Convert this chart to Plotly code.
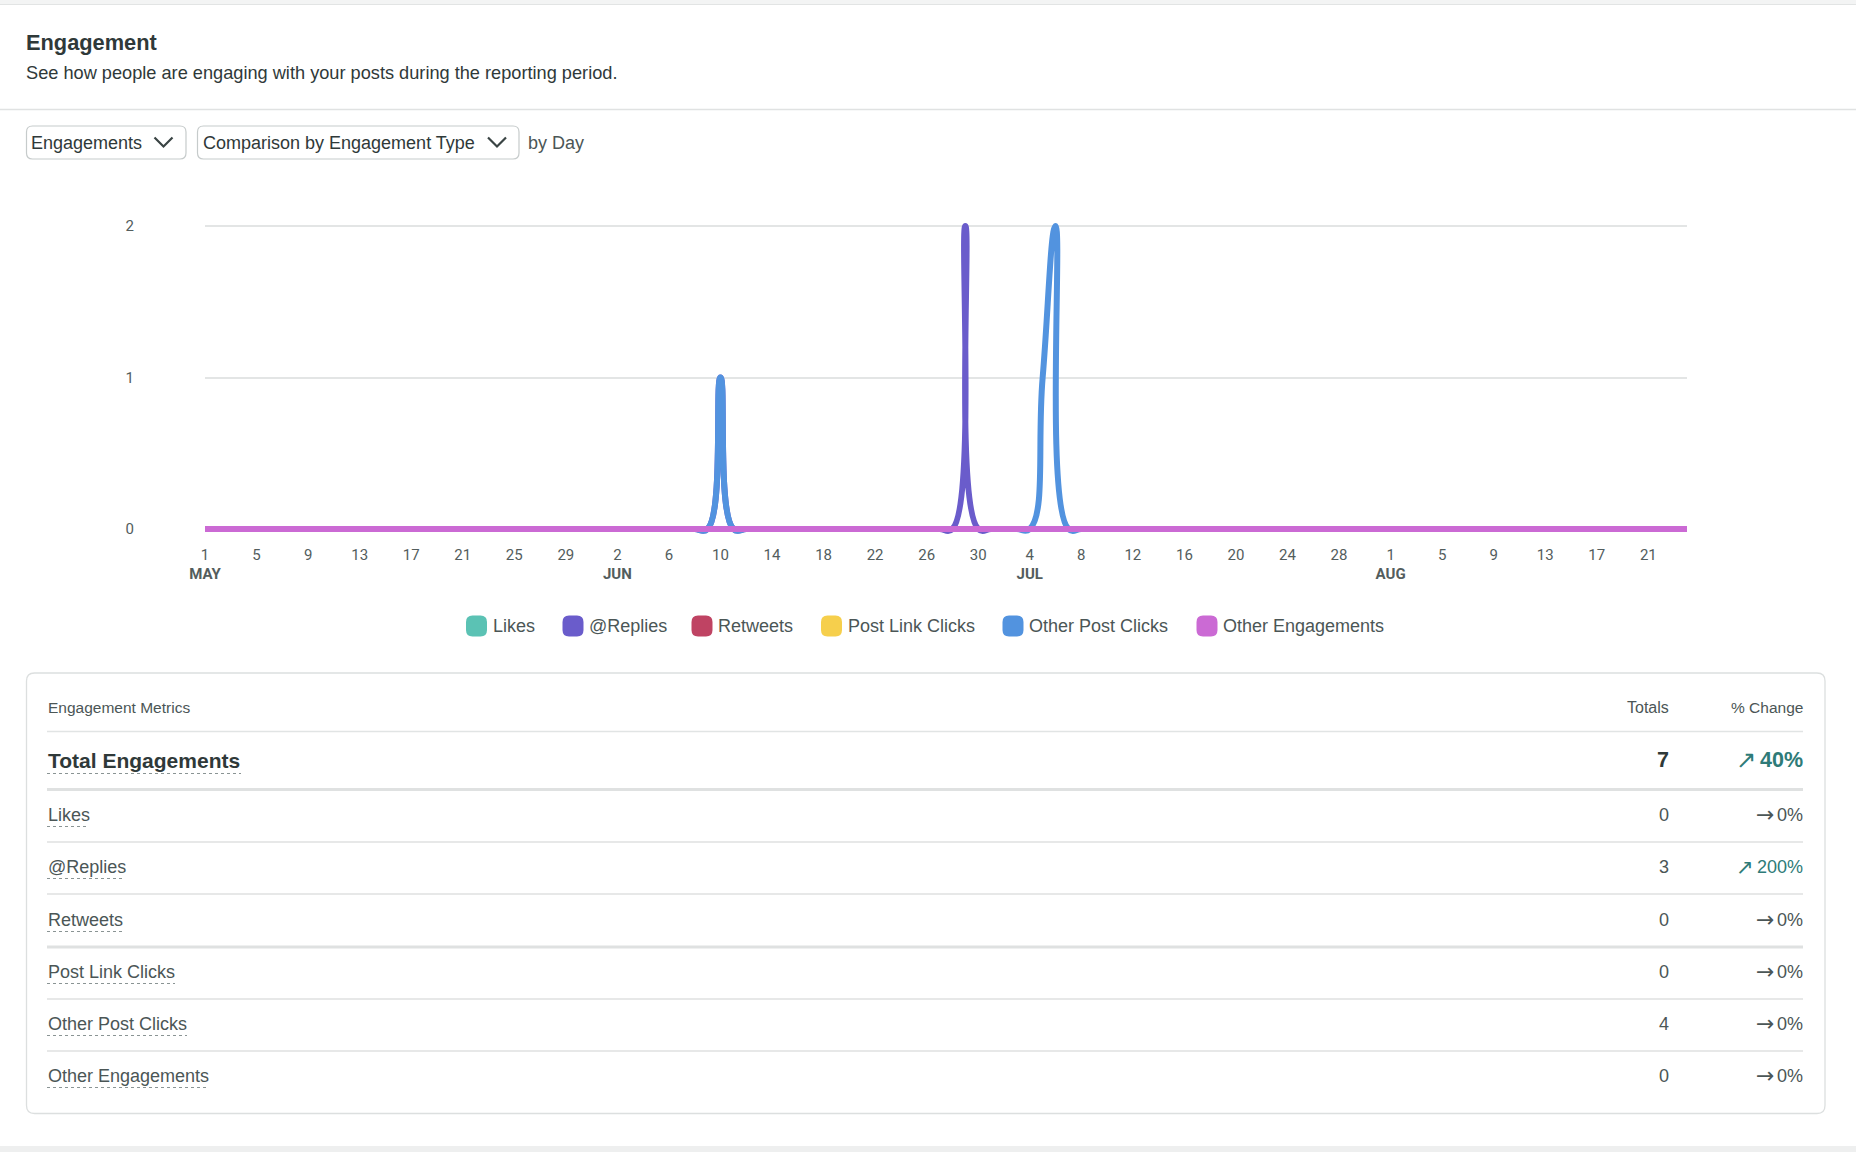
import pandas as pd
import plotly.graph_objects as go

# ------------------------------------------------------------------ data
start_date = "2023-05-01"
end_date = "2023-08-24"
dates = pd.date_range(start_date, end_date, freq="D")

# daily values, May 1 - Aug 24 (one line per month)
likes = (
    [0, 0, 0, 0, 0, 0, 0, 0, 0, 0, 0, 0, 0, 0, 0, 0, 0, 0, 0, 0, 0, 0, 0, 0, 0, 0, 0, 0, 0, 0, 0]
    + [0, 0, 0, 0, 0, 0, 0, 0, 0, 0, 0, 0, 0, 0, 0, 0, 0, 0, 0, 0, 0, 0, 0, 0, 0, 0, 0, 0, 0, 0]
    + [0, 0, 0, 0, 0, 0, 0, 0, 0, 0, 0, 0, 0, 0, 0, 0, 0, 0, 0, 0, 0, 0, 0, 0, 0, 0, 0, 0, 0, 0, 0]
    + [0, 0, 0, 0, 0, 0, 0, 0, 0, 0, 0, 0, 0, 0, 0, 0, 0, 0, 0, 0, 0, 0, 0, 0]
)
replies = (
    [0, 0, 0, 0, 0, 0, 0, 0, 0, 0, 0, 0, 0, 0, 0, 0, 0, 0, 0, 0, 0, 0, 0, 0, 0, 0, 0, 0, 0, 0, 0]
    + [0, 0, 0, 0, 0, 0, 0, 0, 0, 1, 0, 0, 0, 0, 0, 0, 0, 0, 0, 0, 0, 0, 0, 0, 0, 0, 0, 0, 2, 0]
    + [0, 0, 0, 0, 0, 0, 0, 0, 0, 0, 0, 0, 0, 0, 0, 0, 0, 0, 0, 0, 0, 0, 0, 0, 0, 0, 0, 0, 0, 0, 0]
    + [0, 0, 0, 0, 0, 0, 0, 0, 0, 0, 0, 0, 0, 0, 0, 0, 0, 0, 0, 0, 0, 0, 0, 0]
)
retweets = (
    [0, 0, 0, 0, 0, 0, 0, 0, 0, 0, 0, 0, 0, 0, 0, 0, 0, 0, 0, 0, 0, 0, 0, 0, 0, 0, 0, 0, 0, 0, 0]
    + [0, 0, 0, 0, 0, 0, 0, 0, 0, 0, 0, 0, 0, 0, 0, 0, 0, 0, 0, 0, 0, 0, 0, 0, 0, 0, 0, 0, 0, 0]
    + [0, 0, 0, 0, 0, 0, 0, 0, 0, 0, 0, 0, 0, 0, 0, 0, 0, 0, 0, 0, 0, 0, 0, 0, 0, 0, 0, 0, 0, 0, 0]
    + [0, 0, 0, 0, 0, 0, 0, 0, 0, 0, 0, 0, 0, 0, 0, 0, 0, 0, 0, 0, 0, 0, 0, 0]
)
post_link_clicks = (
    [0, 0, 0, 0, 0, 0, 0, 0, 0, 0, 0, 0, 0, 0, 0, 0, 0, 0, 0, 0, 0, 0, 0, 0, 0, 0, 0, 0, 0, 0, 0]
    + [0, 0, 0, 0, 0, 0, 0, 0, 0, 0, 0, 0, 0, 0, 0, 0, 0, 0, 0, 0, 0, 0, 0, 0, 0, 0, 0, 0, 0, 0]
    + [0, 0, 0, 0, 0, 0, 0, 0, 0, 0, 0, 0, 0, 0, 0, 0, 0, 0, 0, 0, 0, 0, 0, 0, 0, 0, 0, 0, 0, 0, 0]
    + [0, 0, 0, 0, 0, 0, 0, 0, 0, 0, 0, 0, 0, 0, 0, 0, 0, 0, 0, 0, 0, 0, 0, 0]
)
other_post_clicks = (
    [0, 0, 0, 0, 0, 0, 0, 0, 0, 0, 0, 0, 0, 0, 0, 0, 0, 0, 0, 0, 0, 0, 0, 0, 0, 0, 0, 0, 0, 0, 0]
    + [0, 0, 0, 0, 0, 0, 0, 0, 0, 1, 0, 0, 0, 0, 0, 0, 0, 0, 0, 0, 0, 0, 0, 0, 0, 0, 0, 0, 0, 0]
    + [0, 0, 0, 0, 1, 2, 0, 0, 0, 0, 0, 0, 0, 0, 0, 0, 0, 0, 0, 0, 0, 0, 0, 0, 0, 0, 0, 0, 0, 0, 0]
    + [0, 0, 0, 0, 0, 0, 0, 0, 0, 0, 0, 0, 0, 0, 0, 0, 0, 0, 0, 0, 0, 0, 0, 0]
)
other_engagements = (
    [0, 0, 0, 0, 0, 0, 0, 0, 0, 0, 0, 0, 0, 0, 0, 0, 0, 0, 0, 0, 0, 0, 0, 0, 0, 0, 0, 0, 0, 0, 0]
    + [0, 0, 0, 0, 0, 0, 0, 0, 0, 0, 0, 0, 0, 0, 0, 0, 0, 0, 0, 0, 0, 0, 0, 0, 0, 0, 0, 0, 0, 0]
    + [0, 0, 0, 0, 0, 0, 0, 0, 0, 0, 0, 0, 0, 0, 0, 0, 0, 0, 0, 0, 0, 0, 0, 0, 0, 0, 0, 0, 0, 0, 0]
    + [0, 0, 0, 0, 0, 0, 0, 0, 0, 0, 0, 0, 0, 0, 0, 0, 0, 0, 0, 0, 0, 0, 0, 0]
)

series_names = ["Likes", "@Replies", "Retweets", "Post Link Clicks",
                "Other Post Clicks", "Other Engagements"]
series_values = [likes, replies, retweets, post_link_clicks,
                 other_post_clicks, other_engagements]
series_colors = ["#5BC2B4", "#6A5CCB", "#BF4363", "#F6CF4C", "#5293DF", "#CB6AD4"]

y_ticks = [0, 1, 2]
tick_dates = pd.date_range("2023-05-01", "2023-08-21", freq="4D")
month_labels = {5: "MAY", 6: "JUN", 7: "JUL", 8: "AUG"}

# table
total_label = "Total Engagements"
total_value = 7
total_change = "40%"
total_trend = "up"
metric_names = ["Likes", "@Replies", "Retweets", "Post Link Clicks",
                "Other Post Clicks", "Other Engagements"]
metric_totals = [0, 3, 0, 0, 4, 0]
metric_changes = ["0%", "200%", "0%", "0%", "0%", "0%"]
metric_trends = ["flat", "up", "flat", "flat", "flat", "flat"]

# ------------------------------------------------------------------ layout helpers
W, H = 1856, 1152
FONT = "Liberation Sans, Arial, Helvetica, sans-serif"
TICKFONT = "Roboto, Liberation Sans, sans-serif"
ARROWFONT = "DejaVu Sans, sans-serif"
C_DARK = "#2f3939"
C_TEXT = "#4b5656"
C_TEAL = "#2e7b78"
C_LINE = "#e1e4e4"
ARROWS = {"up": "\u2197", "flat": "\u2192"}


def X(px):
    return px / W


def Y(py):
    return 1 - py / H


def num_width(s, size):
    # advance widths of digits / percent sign in Liberation Sans (em units)
    return size * sum(0.889 if c == "%" else 0.556 for c in s)


def rrect_path(x0, y0, x1, y1, r):
    p = [
        (x0 + r, y0), (x1 - r, y0), (x1, y0), (x1, y0 + r), (x1, y1 - r),
        (x1, y1), (x1 - r, y1), (x0 + r, y1), (x0, y1), (x0, y1 - r),
        (x0, y0 + r), (x0, y0), (x0 + r, y0),
    ]
    s = "M{},{} L{},{} Q{},{} {},{} L{},{} Q{},{} {},{} L{},{} Q{},{} {},{} L{},{} Q{},{} {},{} Z"
    flat = []
    for a, b in p:
        flat += [round(X(a), 6), round(Y(b), 6)]
    return s.format(*flat)


shapes = []
annotations = []


def text(px, py, s, size, color=C_TEXT, anchor="left", family=FONT):
    annotations.append(dict(
        x=X(px), y=Y(py), xref="paper", yref="paper", text=s, showarrow=False,
        xanchor=anchor, yanchor="middle", borderpad=0,
        font=dict(family=family, size=size, color=color),
    ))


def hline(x0, x1, py, color=C_LINE, width=1.5, dash="solid"):
    shapes.append(dict(type="line", xref="paper", yref="paper",
                       x0=X(x0), x1=X(x1), y0=Y(py), y1=Y(py),
                       line=dict(color=color, width=width, dash=dash)))


def chevron(cx, cy):
    shapes.append(dict(type="path", xref="paper", yref="paper",
                       path="M{},{} L{},{} L{},{}".format(
                           X(cx - 9), Y(cy - 4.5), X(cx), Y(cy + 4.5), X(cx + 9), Y(cy - 4.5)),
                       line=dict(color="#3a4444", width=2.2)))


def change_cell(right_px, py, value, trend, size, bold=False):
    color = C_TEAL if trend == "up" else C_TEXT
    text(right_px, py, ("<b>" + value + "</b>") if bold else value, size, color, anchor="right")
    arrow_right = right_px - num_width(value, size) - 3
    asize = size + 4 if trend == "flat" else size + 3
    text(arrow_right, py - 0.5, ARROWS[trend], asize, color, anchor="right", family=ARROWFONT)


# ------------------------------------------------------------------ figure
fig = go.Figure()
for name, vals, color in zip(series_names, series_values, series_colors):
    fig.add_trace(go.Scatter(
        x=dates, y=vals, name=name, mode="lines",
        line=dict(color=color, width=6, shape="spline", smoothing=1.3),
        showlegend=False, hoverinfo="x+y+name",
    ))

tick_text = []
prev_month = None
for d in tick_dates:
    lab = str(d.day)
    if d.month != prev_month:
        lab += "<br><b>" + month_labels[d.month] + "</b>"
        prev_month = d.month
    tick_text.append(lab)

# page frame
shapes.append(dict(type="rect", xref="paper", yref="paper", x0=0, x1=1, y0=Y(4), y1=1,
                   fillcolor="#f3f4f4", line=dict(width=0), layer="below"))
hline(0, W, 4.5, color="#e2e4e4", width=1)
shapes.append(dict(type="rect", xref="paper", yref="paper", x0=0, x1=1, y0=0, y1=Y(1146),
                   fillcolor="#eeefef", line=dict(width=0), layer="below"))

# header
text(25, 43, "<b>Engagement</b>", 21.8, C_DARK)
text(25, 72.5, "See how people are engaging with your posts during the reporting period.", 18.2, C_DARK)
hline(0, W, 109.5, color="#e0e2e2", width=1.5)

# dropdowns
shapes.append(dict(type="path", xref="paper", yref="paper", path=rrect_path(26.5, 126, 186, 159, 6),
                   line=dict(color="#c6cbcb", width=1.2)))
text(30, 143, "Engagements", 18, C_DARK)
chevron(163.5, 142)
shapes.append(dict(type="path", xref="paper", yref="paper", path=rrect_path(197.5, 126, 519, 159, 6),
                   line=dict(color="#c6cbcb", width=1.2)))
text(201.5, 143, "Comparison by Engagement Type", 18, C_DARK)
chevron(497, 142)
text(527, 143, "by Day", 18, C_TEXT)

# legend (manual, rounded squares)
legend_x_px = [476.5, 573, 702, 831.5, 1013, 1207]
for cx, name, color in zip(legend_x_px, series_names, series_colors):
    shapes.append(dict(type="path", xref="paper", yref="paper",
                       path=rrect_path(cx - 10.5, 615.5, cx + 10.5, 636.5, 6.5),
                       fillcolor=color, line=dict(width=0)))
    text(cx + 15, 626, name, 18, C_TEXT)

# table card
shapes.append(dict(type="path", xref="paper", yref="paper", path=rrect_path(26.5, 673, 1825, 1113.5, 8),
                   line=dict(color="#dcdfdf", width=1.3)))
text(47, 707, "Engagement Metrics", 15.5, C_TEXT)
text(1670, 707, "Totals", 16, C_TEXT, anchor="right")
text(1804, 707, "% Change", 15.5, C_TEXT, anchor="right")
hline(47, 1803, 731.5)

text(47, 760, "<b>" + total_label + "</b>", 21, C_DARK)
hline(47, 241, 773.5, color="#8a9494", width=1, dash="dot")
text(1670, 760, "<b>" + str(total_value) + "</b>", 21.5, C_DARK, anchor="right")
change_cell(1804, 760, total_change, total_trend, 21.5, bold=True)
hline(47, 1803, 789.5, color="#dfe1e1", width=3)

row_y = [815, 867, 920, 972, 1024, 1076]
row_underline_w = [42, 75, 75, 128, 140, 161]
row_divider_y = [842, 894, 947, 999, 1051]
row_divider_w = [1.5, 1.5, 3, 1.5, 1.5]
for yy, name, tot, chg, trend, uw in zip(row_y, metric_names, metric_totals, metric_changes,
                                         metric_trends, row_underline_w):
    text(47, yy, name, 18, C_TEXT)
    hline(47, 47 + uw, yy + 11.5, color="#8a9494", width=1, dash="dot")
    text(1670, yy, str(tot), 18, C_TEXT, anchor="right")
    change_cell(1804, yy, chg, trend, 18)
for yy, wd in zip(row_divider_y, row_divider_w):
    hline(47, 1803, yy, color="#dfe1e1", width=wd)

fig.update_layout(
    width=W, height=H,
    margin=dict(l=0, r=0, t=0, b=0, pad=0, autoexpand=False),
    paper_bgcolor="#ffffff", plot_bgcolor="#ffffff",
    showlegend=False,
    font=dict(family=FONT, color=C_TEXT),
    xaxis=dict(
        type="date", range=[start_date, end_date], domain=[X(205), X(1687)],
        tickmode="array", tickvals=list(tick_dates), ticktext=tick_text,
        showgrid=False, zeroline=False, showline=False, ticks="",
        tickfont=dict(family=TICKFONT, size=15, color="#535d5d"),
        ticklabelstandoff=7, fixedrange=True, automargin=False,
    ),
    yaxis=dict(
        range=[-0.05, 2.05], domain=[Y(536.6), Y(218.4)],
        tickmode="array", tickvals=y_ticks, ticktext=[str(v) for v in y_ticks],
        showgrid=True, gridcolor="#e3e5e5", gridwidth=2, zeroline=False, showline=False,
        ticks="", tickfont=dict(family=TICKFONT, size=15, color="#535d5d"),
        ticklabelstandoff=70, fixedrange=True, automargin=False,
    ),
    shapes=shapes,
    annotations=annotations,
)

fig.write_html("out.html", config={"displayModeBar": False},
               post_script="document.body.style.margin='0';")
